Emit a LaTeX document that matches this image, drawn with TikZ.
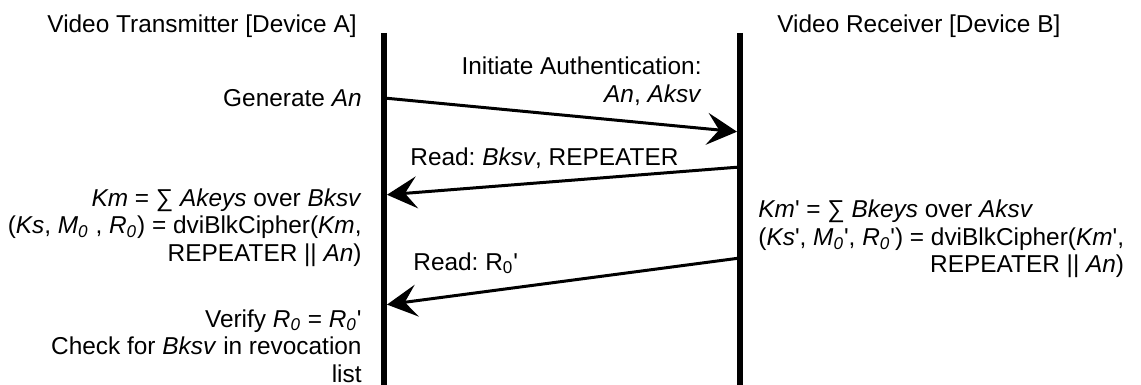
\documentclass[tikz,border=0pt]{standalone}
\usepackage{fontspec}
\setmainfont{Liberation Sans}
\usetikzlibrary{arrows.meta}
\newcommand{\prm}{\textquotesingle}
\frenchspacing

\tikzset{
    lifeline/.style={line width=3.3pt},
    msg/.style={line width=1.5pt,-{Stealth[length=15pt,width=16pt,inset=6pt]},shorten >=1.5pt},
    lbl/.style={inner sep=0pt,font=\fontsize{12.2}{13.75}\selectfont},
}

\begin{document}
\begin{tikzpicture}[x=0.5pt,y=-0.5pt]
        \useasboundingbox (0,0) rectangle (1141,385);
        % lifelines
        \coordinate (atop) at (384,33);
        \coordinate (abot) at (384,385);
        \coordinate (btop) at (740,33);
        \coordinate (bbot) at (740,385);
        \draw[lifeline](atop)--(abot);
        \draw[lifeline](btop)--(bbot);
        \node[lbl,anchor=base east](devA)at(357,33){Video Transmitter [Device A]};
        \node[lbl,anchor=base west](devB)at(777,33){Video Receiver [Device B]};

        % messages
        \coordinate (a1) at (384,98);
        \coordinate (b1) at (740,132);
        \coordinate (b2) at (740,167);
        \coordinate (a2) at (384,195);
        \coordinate (b3) at (740,258);
        \coordinate (a3) at (384,305);
        \draw[msg](a1)--(b1);
        \draw[msg](b2)--(a2);
        \draw[msg](b3)--(a3);
        \node[lbl,anchor=base east](init)at(702,75){\begin{tabular}[t]{@{}r@{}}Initiate Authentication:\\\textit{An}, \textit{Aksv}\end{tabular}};
        \node[lbl,anchor=base west](rdb)at(410,166){Read: \textit{Bksv}, REPEATER};
        \node[lbl,anchor=base west](rdr)at(413,270){Read: R\textsubscript{0}\prm};

        % device A
        \node[lbl,anchor=base east](gen)at(362,107){Generate \textit{An}};
        \node[lbl,anchor=base east](kma)at(362,206){\begin{tabular}[t]{@{}r@{}}\textit{Km} = ∑ \textit{Akeys} over \textit{Bksv}\\(\textit{Ks}, \textit{M\textsubscript{0}} , \textit{R\textsubscript{0}}) = dviBlkCipher(\textit{Km},\\REPEATER || \textit{An})\end{tabular}};
        \node[lbl,anchor=base east](ver)at(362,327){\begin{tabular}[t]{@{}r@{}}Verify \textit{R\textsubscript{0}} = \textit{R\textsubscript{0}}\prm\\Check for \textit{Bksv} in revocation\\list\end{tabular}};

        % device B
        \node[lbl,anchor=base west](kmb)at(758,218){\begin{tabular}[t]{@{}l@{}}\textit{Km}\prm{} = ∑ \textit{Bkeys} over \textit{Aksv}\\(\textit{Ks}\prm, \textit{M\textsubscript{0}}\prm, \textit{R\textsubscript{0}}\prm) = dviBlkCipher(\textit{Km}\prm,\\\multicolumn{1}{@{}r@{}}{REPEATER || \textit{An})}\end{tabular}};
    \end{tikzpicture}
\end{document}
